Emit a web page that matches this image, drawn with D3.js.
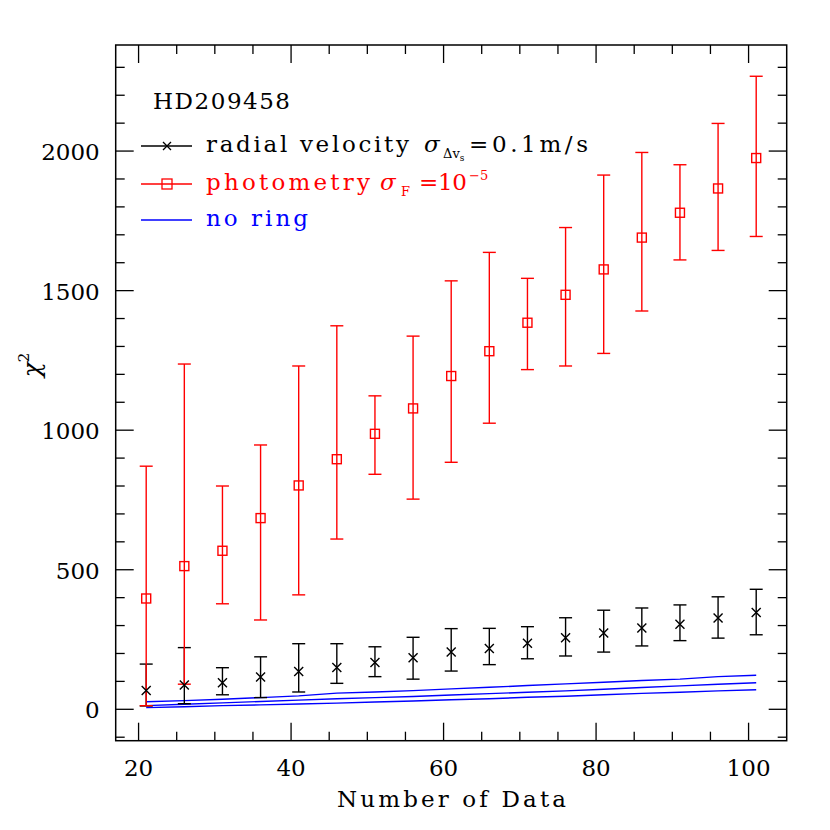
<!DOCTYPE html>
<html><head><meta charset="utf-8">
<script src="https://cdn.jsdelivr.net/npm/d3@7"></script>
<style>body{margin:0;background:#fff}</style>
</head><body>
<svg id="c" width="830" height="830"></svg>
<script>
const xs = [21,26,31,36,41,46,51,56,61,66,71,76,81,86,91,96,101];
const photoVal = [397,513,568,685,802,896,987,1078,1194,1283,1385,1485,1576,1690,1779,1866,1975];
const photoHi  = [871,1237,800,947,1230,1374,1123,1337,1535,1637,1544,1726,1914,1995,1951,2099,2268];
const photoLo  = [13,90,378,320,410,610,842,753,885,1025,1217,1230,1275,1427,1610,1644,1694];
const rvVal = [67,87,95,116,135,150,168,185,205,218,237,256,273,291,305,327,347];
const rvHi  = [162,221,149,188,235,235,224,258,289,290,296,328,355,363,374,403,430];
const rvLo  = [12,20,52,42,62,93,117,108,137,160,181,191,205,227,246,255,267];
const noRingA = [27,31,36,42,48,58,62,67,73,79,85,91,97,103,108,117,122];
const noRingB = [13,18,23,28,33,38,42,46,51,56,61,66,72,78,84,90,95];
const noRingC = [6,9,13,16,19,22,26,30,34,38,43,47,52,57,61,66,70];
const xTickLabels = [20,40,60,80,100];
const yTickLabels = [0,500,1000,1500,2000];

const svg = d3.select("#c");
const L=115.7, R=786.7, T=45, B=740.7;
const x = d3.scaleLinear().domain([17,105]).range([L,R]);
const y = d3.scaleLinear().domain([-112.5,2380]).range([B,T]);
const font = "'DejaVu Serif', serif";
const ink = "#000";
const FS = 23;

// frame
svg.append("rect").attr("x",L).attr("y",T).attr("width",R-L).attr("height",B-T)
  .attr("fill","none").attr("stroke",ink).attr("stroke-width",1.5);

// ticks
const g = svg.append("g").attr("stroke",ink).attr("stroke-width",1.3);
d3.range(20,105,5).forEach(v=>{
  const len = v%20===0?18:9;
  g.append("line").attr("x1",x(v)).attr("x2",x(v)).attr("y1",B).attr("y2",B-len);
  g.append("line").attr("x1",x(v)).attr("x2",x(v)).attr("y1",T).attr("y2",T+len);
});
d3.range(-100,2400,100).forEach(v=>{
  const len = v%500===0?18:9;
  g.append("line").attr("y1",y(v)).attr("y2",y(v)).attr("x1",L).attr("x2",L+len);
  g.append("line").attr("y1",y(v)).attr("y2",y(v)).attr("x1",R).attr("x2",R-len);
});
xTickLabels.forEach(v=>{
  svg.append("text").attr("x",x(v)).attr("y",B+35).attr("text-anchor","middle")
    .attr("font-family",font).attr("font-size",FS).attr("fill",ink).text(v);
});
yTickLabels.forEach(v=>{
  svg.append("text").attr("x",L-16).attr("y",y(v)+9).attr("text-anchor","end")
    .attr("font-family",font).attr("font-size",FS).attr("fill",ink).text(v);
});
svg.append("text").attr("x",337).attr("y",807)
  .attr("font-family",font).attr("font-size",FS).attr("fill",ink)
  .attr("textLength",229).attr("lengthAdjust","spacing").text("Number of Data");
const yl = svg.append("text").attr("transform","translate(40,365) rotate(-90)")
  .attr("text-anchor","middle").attr("font-family",font).attr("font-size",25).attr("fill",ink);
yl.append("tspan").attr("font-style","italic").text("χ");
yl.append("tspan").attr("font-size",15).attr("dy",-11).text("2");

// no ring lines
const line = d3.line().x((d,i)=>x(xs[i])).y(d=>y(d));
[noRingA,noRingB,noRingC].forEach(s=>{
  svg.append("path").attr("d",line(s)).attr("fill","none").attr("stroke","#0000ff").attr("stroke-width",1.4);
});

// error bars
function errs(vals,hi,lo,color,cw){
  const eg = svg.append("g").attr("stroke",color).attr("stroke-width",1.4).attr("fill","none");
  xs.forEach((xv,i)=>{
    const px=x(xv);
    eg.append("line").attr("x1",px).attr("x2",px).attr("y1",y(hi[i])).attr("y2",y(lo[i]));
    eg.append("line").attr("x1",px-cw).attr("x2",px+cw).attr("y1",y(hi[i])).attr("y2",y(hi[i]));
    eg.append("line").attr("x1",px-cw).attr("x2",px+cw).attr("y1",y(lo[i])).attr("y2",y(lo[i]));
  });
  return eg;
}
errs(rvVal,rvHi,rvLo,ink,6.5);
errs(photoVal,photoHi,photoLo,"#ff0000",6.5);

// markers
const ms=4.5;
xs.forEach((xv,i)=>{
  const px=x(xv), py=y(photoVal[i]);
  svg.append("rect").attr("x",px-ms).attr("y",py-ms).attr("width",2*ms).attr("height",2*ms)
    .attr("fill","none").attr("stroke","#ff0000").attr("stroke-width",1.4);
  const qy=y(rvVal[i]);
  svg.append("path").attr("d",`M${px-ms},${qy-ms}L${px+ms},${qy+ms}M${px-ms},${qy+ms}L${px+ms},${qy-ms}`)
    .attr("stroke",ink).attr("stroke-width",1.4);
});

// legend
svg.append("text").attr("x",153).attr("y",109).attr("font-family",font).attr("font-size",FS)
  .attr("fill",ink).attr("textLength",137).attr("lengthAdjust","spacing").text("HD209458");
// rv
svg.append("line").attr("x1",141).attr("x2",192).attr("y1",146).attr("y2",146).attr("stroke",ink).attr("stroke-width",1.3);
svg.append("path").attr("d",`M${167-4},${146-4}L${167+4},${146+4}M${167-4},${146+4}L${167+4},${146-4}`).attr("stroke",ink).attr("stroke-width",1.3);
const t1 = svg.append("text").attr("y",152).attr("font-family",font).attr("font-size",FS).attr("fill",ink);
t1.append("tspan").attr("x",206).attr("textLength",203).attr("lengthAdjust","spacing").text("radial velocity");
t1.append("tspan").attr("x",424).attr("font-style","italic").text("σ");
t1.append("tspan").attr("x",443).attr("font-size",13).attr("dy",6).text("Δv");
t1.append("tspan").attr("font-size",9).attr("dy",3).text("s");
t1.append("tspan").attr("x",469).attr("dy",-9).attr("textLength",119).attr("lengthAdjust","spacing").text("=0.1m/s");
// photometry
svg.append("line").attr("x1",141).attr("x2",192).attr("y1",184).attr("y2",184).attr("stroke","#ff0000").attr("stroke-width",1.3);
svg.append("rect").attr("x",162).attr("y",179).attr("width",10).attr("height",10).attr("fill","none").attr("stroke","#ff0000").attr("stroke-width",1.3);
const t2 = svg.append("text").attr("y",190).attr("font-family",font).attr("font-size",FS).attr("fill","#ff0000");
t2.append("tspan").attr("x",206).attr("textLength",164).attr("lengthAdjust","spacing").text("photometry");
t2.append("tspan").attr("x",380).attr("font-style","italic").text("σ");
t2.append("tspan").attr("x",401).attr("font-size",13).attr("dy",6).text("F");
t2.append("tspan").attr("x",419).attr("dy",-6).attr("textLength",48).attr("lengthAdjust","spacing").text("=10");
t2.append("tspan").attr("x",469).attr("font-size",13).attr("dy",-10).text("−5");
// no ring
svg.append("line").attr("x1",141).attr("x2",192).attr("y1",220).attr("y2",220).attr("stroke","#0000ff").attr("stroke-width",1.3);
svg.append("text").attr("x",206).attr("y",226).attr("font-family",font).attr("font-size",FS).attr("fill","#0000ff")
  .attr("textLength",102).attr("lengthAdjust","spacing").text("no ring");
</script>
</body></html>
